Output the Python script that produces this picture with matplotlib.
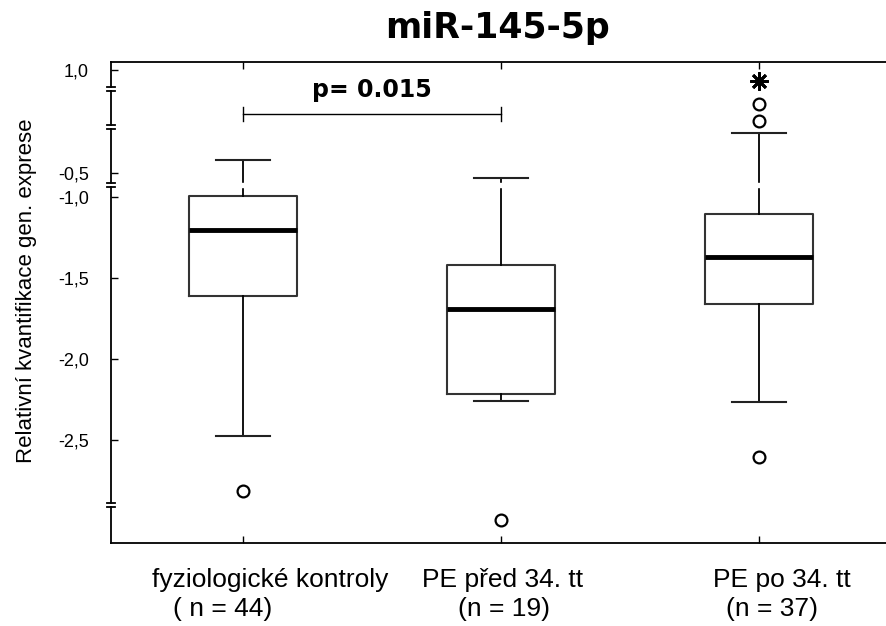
import matplotlib.pyplot as plt
from matplotlib import transforms

plt.rcParams['font.family'] = ['Liberation Sans', 'DejaVu Sans']

# groups and sample sizes
groups = ['fyziologické kontroly', 'PE před 34. tt', 'PE po 34. tt']
n_labels = ['( n = 44)', '(n = 19)', '(n = 37)']

# box statistics (relative quantification, log scale)
whis_lo = [-2.475, -2.259, -2.265]
q1 = [-1.611, -2.216, -1.660]
medians = [-1.204, -1.691, -1.370]
q3 = [-0.994, -1.420, -1.105]
whis_hi = [-0.772, -0.883, -0.605]
outliers = [[-2.815], [-2.994], [-2.605, -0.531, -0.426]]
extremes = [[], [], [-0.284]]

# y axis ticks (axis is broken above -1,0)
ytick_vals = [-0.216, -0.852, -1.0, -1.5, -2.0, -2.5]
ytick_labels = ['1,0', '-0,5', '-1,0', '-1,5', '-2,0', '-2,5']
axis_breaks = [-0.333, -0.568, -0.926, -2.901]
ylim = (-3.136, -0.167)

p_text = 'p= 0.015'

def draw_chart():
    fig = plt.figure(figsize=(8.86, 6.26), dpi=100)
    ax = fig.add_axes([0.1253, 0.1326, 0.8747, 0.7684])

    pos = [1, 2, 3]
    stats = []
    for i in range(3):
        stats.append({'whislo': whis_lo[i], 'q1': q1[i], 'med': medians[i],
                      'q3': q3[i], 'whishi': whis_hi[i], 'fliers': outliers[i]})

    ax.bxp(stats, positions=pos, widths=0.42, capwidths=0.21,
           boxprops=dict(color='#333333', lw=1.5),
           whiskerprops=dict(color='black', lw=1.3),
           capprops=dict(color='#222222', lw=1.5),
           medianprops=dict(color='black', lw=3.5),
           flierprops=dict(marker='o', markersize=8.5, markerfacecolor='white',
                           markeredgecolor='black', markeredgewidth=1.6))

    for i, ext in enumerate(extremes):
        if ext:
            ax.plot([pos[i]] * len(ext), ext, linestyle='none', marker=(8, 2, 0),
                    markersize=13, markeredgewidth=2, color='black')

    # white gap where the axis is broken
    ax.axhspan(-0.938, -0.914, color='white', zorder=5)

    ax.set_xlim(0.488, 3.492)
    ax.set_ylim(*ylim)

    ax.set_yticks(ytick_vals)
    ax.set_yticklabels(ytick_labels, fontsize=13)
    ax.tick_params(axis='y', direction='in', length=5, width=1, pad=16)
    ax.set_xticks(pos)
    ax.set_xticklabels([])
    ax.tick_params(axis='x', direction='in', length=5, width=1,
                   top=True, bottom=True)

    ax.spines['right'].set_visible(False)
    ax.spines['left'].set_visible(False)
    ax.spines['top'].set_linewidth(1.3)
    ax.spines['bottom'].set_linewidth(1.3)

    # left axis drawn in pieces with break caps
    tr = transforms.blended_transform_factory(ax.transAxes, ax.transData)
    gap = 0.012
    edges = [ylim[1]]
    for b in axis_breaks:
        edges += [b + gap, b - gap]
    edges.append(ylim[0])
    for k in range(0, len(edges), 2):
        top, bot = edges[k], edges[k + 1]
        ax.plot([0, 0], [bot, top], transform=tr, color='black', lw=1.3,
                clip_on=False, zorder=6)
        if k > 0:
            ax.plot([-0.005, 0.005], [top, top], transform=tr, color='black',
                    lw=1.3, clip_on=False, zorder=6)
        if k + 2 < len(edges):
            ax.plot([-0.005, 0.005], [bot, bot], transform=tr, color='black',
                    lw=1.3, clip_on=False, zorder=6)

    # significance bracket between the first two groups
    ax.plot([1, 2], [-0.488, -0.488], color='black', lw=1)
    ax.plot([1, 1], [-0.444, -0.531], color='black', lw=1)
    ax.plot([2, 2], [-0.444, -0.531], color='black', lw=1)
    ax.text(1.5, -0.340, p_text, ha='center', va='center', fontsize=17,
            fontweight='bold', family='DejaVu Sans')

    # group labels under the axis
    trx = transforms.blended_transform_factory(ax.transData, ax.transAxes)
    name_x = [1.105, 2.004, 3.09]
    n_x = [0.919, 2.012, 3.05]
    for i in range(3):
        ax.text(name_x[i], -0.077, groups[i], transform=trx, ha='center',
                va='center', fontsize=19)
        ax.text(n_x[i], -0.137, n_labels[i], transform=trx, ha='center',
                va='center', fontsize=19)

    fig.text(27 / 886, 1 - 291 / 626, 'Relativní kvantifikace gen. exprese',
             rotation=90, ha='center', va='center', fontsize=16)
    fig.text(498 / 886, 1 - 28 / 626, 'miR-145-5p', ha='center', va='center',
             fontsize=25, fontweight='bold', family='DejaVu Sans')

    fig.savefig('out.png', dpi=100)

if __name__ == '__main__':
    draw_chart()
